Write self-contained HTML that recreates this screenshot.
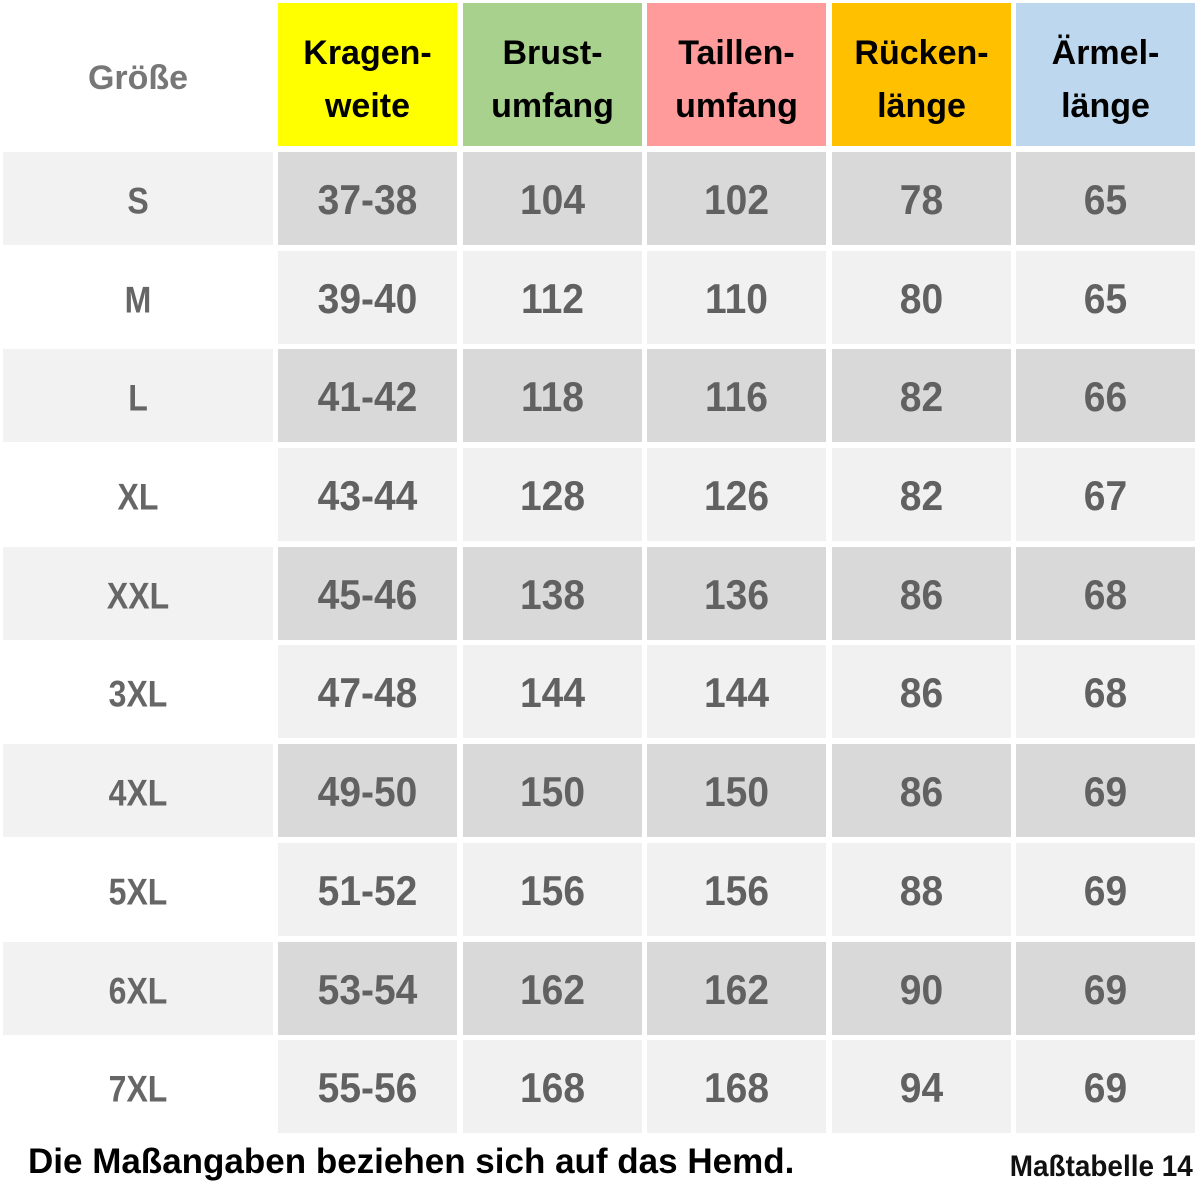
<!DOCTYPE html>
<html>
<head>
<meta charset="utf-8">
<style>
html,body{margin:0;padding:0;background:#fff;}
body{width:1200px;height:1200px;position:relative;overflow:hidden;font-family:"Liberation Sans",Arial,sans-serif;}
.c{position:absolute;text-align:center;}
.h{top:3px;height:143px;width:179px;color:#000;font-weight:bold;font-size:34px;}
.h .t{position:absolute;left:0;right:0;top:24px;line-height:52.5px;}
.d{height:93px;width:179px;line-height:93px;font-weight:bold;font-size:39px;color:#616161;}
.d span{display:inline-block;transform:translateY(2px) scaleY(1.08);}
.s{left:3px;width:270px;height:93px;line-height:93px;font-weight:bold;font-size:32px;color:#666;}
.s span{display:inline-block;transform:translateY(3px) scaleY(1.15);}
.o .s{background:#f2f2f2;}
.o .d{background:#d9d9d9;}
.e .s{background:#ffffff;}
.e .d{background:#f1f1f1;}
</style>
</head>
<body>
<div class="c" style="left:3px;top:3px;width:270px;height:143px;line-height:150px;font-weight:bold;font-size:34px;color:#777;">Größe</div>
<div class="c h" style="left:278px;background:#ffff00;"><div class="t">Kragen-<br>weite</div></div>
<div class="c h" style="left:463px;background:#a9d18e;"><div class="t">Brust-<br>umfang</div></div>
<div class="c h" style="left:647px;background:#ff9b9b;"><div class="t">Taillen-<br>umfang</div></div>
<div class="c h" style="left:832px;background:#ffc000;"><div class="t">Rücken-<br>länge</div></div>
<div class="c h" style="left:1016px;background:#bdd7ee;"><div class="t">Ärmel-<br>länge</div></div>

<div class="o">
<div class="c s" style="top:152px"><span>S</span></div>
<div class="c d" style="top:152px;left:278px"><span>37-38</span></div>
<div class="c d" style="top:152px;left:463px"><span>104</span></div>
<div class="c d" style="top:152px;left:647px"><span>102</span></div>
<div class="c d" style="top:152px;left:832px"><span>78</span></div>
<div class="c d" style="top:152px;left:1016px"><span>65</span></div>
</div>
<div class="e">
<div class="c s" style="top:251px"><span>M</span></div>
<div class="c d" style="top:251px;left:278px"><span>39-40</span></div>
<div class="c d" style="top:251px;left:463px"><span>112</span></div>
<div class="c d" style="top:251px;left:647px"><span>110</span></div>
<div class="c d" style="top:251px;left:832px"><span>80</span></div>
<div class="c d" style="top:251px;left:1016px"><span>65</span></div>
</div>
<div class="o">
<div class="c s" style="top:349px"><span>L</span></div>
<div class="c d" style="top:349px;left:278px"><span>41-42</span></div>
<div class="c d" style="top:349px;left:463px"><span>118</span></div>
<div class="c d" style="top:349px;left:647px"><span>116</span></div>
<div class="c d" style="top:349px;left:832px"><span>82</span></div>
<div class="c d" style="top:349px;left:1016px"><span>66</span></div>
</div>
<div class="e">
<div class="c s" style="top:448px"><span>XL</span></div>
<div class="c d" style="top:448px;left:278px"><span>43-44</span></div>
<div class="c d" style="top:448px;left:463px"><span>128</span></div>
<div class="c d" style="top:448px;left:647px"><span>126</span></div>
<div class="c d" style="top:448px;left:832px"><span>82</span></div>
<div class="c d" style="top:448px;left:1016px"><span>67</span></div>
</div>
<div class="o">
<div class="c s" style="top:547px"><span>XXL</span></div>
<div class="c d" style="top:547px;left:278px"><span>45-46</span></div>
<div class="c d" style="top:547px;left:463px"><span>138</span></div>
<div class="c d" style="top:547px;left:647px"><span>136</span></div>
<div class="c d" style="top:547px;left:832px"><span>86</span></div>
<div class="c d" style="top:547px;left:1016px"><span>68</span></div>
</div>
<div class="e">
<div class="c s" style="top:645px"><span>3XL</span></div>
<div class="c d" style="top:645px;left:278px"><span>47-48</span></div>
<div class="c d" style="top:645px;left:463px"><span>144</span></div>
<div class="c d" style="top:645px;left:647px"><span>144</span></div>
<div class="c d" style="top:645px;left:832px"><span>86</span></div>
<div class="c d" style="top:645px;left:1016px"><span>68</span></div>
</div>
<div class="o">
<div class="c s" style="top:744px"><span>4XL</span></div>
<div class="c d" style="top:744px;left:278px"><span>49-50</span></div>
<div class="c d" style="top:744px;left:463px"><span>150</span></div>
<div class="c d" style="top:744px;left:647px"><span>150</span></div>
<div class="c d" style="top:744px;left:832px"><span>86</span></div>
<div class="c d" style="top:744px;left:1016px"><span>69</span></div>
</div>
<div class="e">
<div class="c s" style="top:843px"><span>5XL</span></div>
<div class="c d" style="top:843px;left:278px"><span>51-52</span></div>
<div class="c d" style="top:843px;left:463px"><span>156</span></div>
<div class="c d" style="top:843px;left:647px"><span>156</span></div>
<div class="c d" style="top:843px;left:832px"><span>88</span></div>
<div class="c d" style="top:843px;left:1016px"><span>69</span></div>
</div>
<div class="o">
<div class="c s" style="top:942px"><span>6XL</span></div>
<div class="c d" style="top:942px;left:278px"><span>53-54</span></div>
<div class="c d" style="top:942px;left:463px"><span>162</span></div>
<div class="c d" style="top:942px;left:647px"><span>162</span></div>
<div class="c d" style="top:942px;left:832px"><span>90</span></div>
<div class="c d" style="top:942px;left:1016px"><span>69</span></div>
</div>
<div class="e">
<div class="c s" style="top:1040px"><span>7XL</span></div>
<div class="c d" style="top:1040px;left:278px"><span>55-56</span></div>
<div class="c d" style="top:1040px;left:463px"><span>168</span></div>
<div class="c d" style="top:1040px;left:647px"><span>168</span></div>
<div class="c d" style="top:1040px;left:832px"><span>94</span></div>
<div class="c d" style="top:1040px;left:1016px"><span>69</span></div>
</div>

<div style="position:absolute;left:28px;top:1144px;font-size:35px;line-height:35px;font-weight:bold;color:#000;white-space:nowrap;">Die Maßangaben beziehen sich auf das Hemd.</div>
<div style="position:absolute;right:7px;top:1152px;font-size:30px;line-height:30px;font-weight:bold;color:#111;white-space:nowrap;transform:scaleX(0.93);transform-origin:right center;">Maßtabelle 14</div>
</body>
</html>
